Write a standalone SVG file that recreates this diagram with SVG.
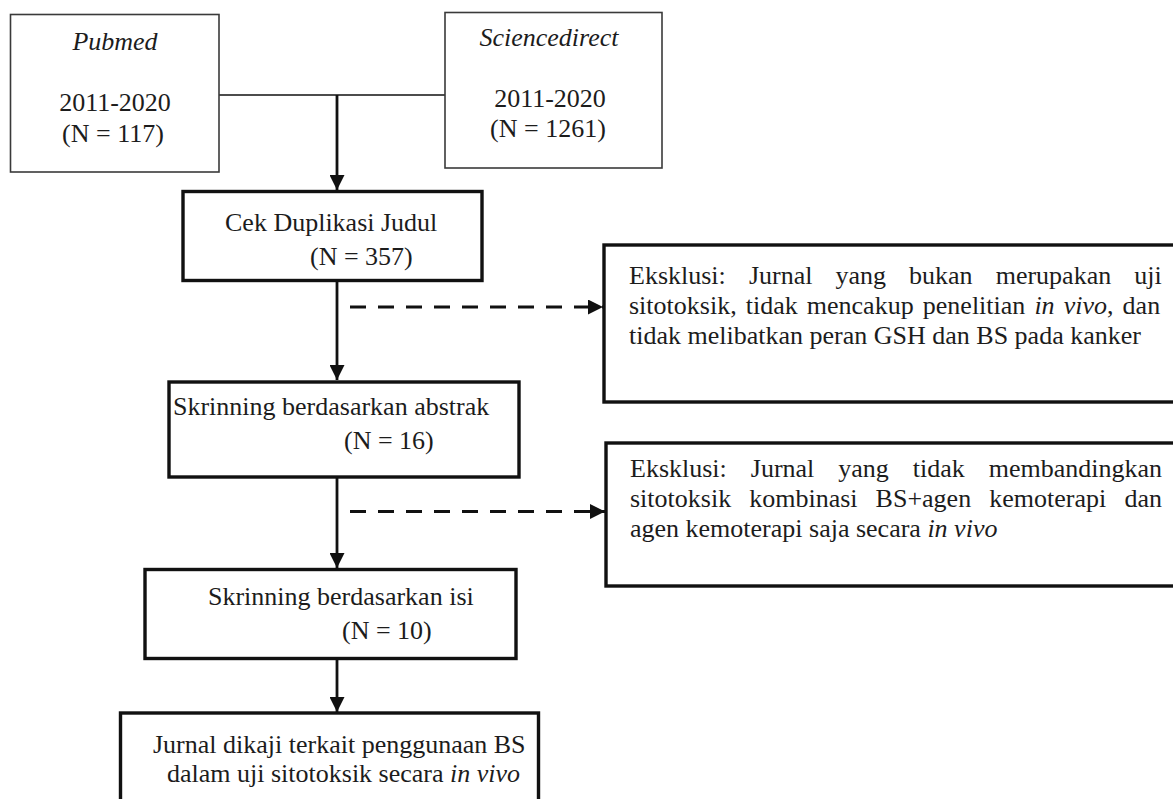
<svg xmlns="http://www.w3.org/2000/svg" width="1173" height="799" viewBox="0 0 1173 799">
<style>
text{font-family:"Liberation Serif","Times New Roman",serif;font-size:26px;fill:#1c1c1c}
.it{font-style:italic}
.thin{fill:#fff;stroke:#3a3a3a;stroke-width:1.6}
.thick{fill:#fff;stroke:#111;stroke-width:3.4}
.con{stroke:#111;fill:none}
.solid{stroke-width:2.8}
.dash{stroke-width:3;stroke-dasharray:16 12}
.mid{text-anchor:middle}
</style>
<defs>
<marker id="ah" viewBox="0 0 15 15" refX="15" refY="7.5" markerWidth="15" markerHeight="15" markerUnits="userSpaceOnUse" orient="auto">
<path d="M0,0 L15,7.5 L0,15 z" fill="#111"/>
</marker>
</defs>

<g id="connectors">
<line class="con" x1="219" y1="95" x2="445" y2="95" stroke-width="1.6"/>
<line class="con solid" x1="337" y1="95" x2="337" y2="190" marker-end="url(#ah)"/>
<line class="con solid" x1="337" y1="281" x2="337" y2="380" marker-end="url(#ah)"/>
<line class="con dash" x1="350" y1="307" x2="603" y2="307" marker-end="url(#ah)"/>
<line class="con solid" x1="337" y1="477" x2="337" y2="568" marker-end="url(#ah)"/>
<line class="con dash" x1="350" y1="511.5" x2="605" y2="511.5" marker-end="url(#ah)"/>
<line class="con solid" x1="337" y1="659" x2="337" y2="712" marker-end="url(#ah)"/>
</g>

<g id="pubmed">
<rect class="thin" x="10.5" y="14.5" width="208.5" height="157.5"/>
<text class="it mid" x="115" y="50">Pubmed</text>
<text class="mid" x="115" y="111">2011-2020</text>
<text class="mid" x="113" y="142">(N = 117)</text>
</g>

<g id="sciencedirect">
<rect class="thin" x="445" y="12.5" width="217" height="155.5"/>
<text class="it mid" x="549" y="46">Sciencedirect</text>
<text class="mid" x="550" y="107">2011-2020</text>
<text class="mid" x="548" y="137">(N = 1261)</text>
</g>

<g id="cek">
<rect class="thick" x="183" y="191.5" width="299" height="89"/>
<text x="225" y="231">Cek Duplikasi Judul</text>
<text x="310" y="265">(N = 357)</text>
</g>

<g id="abstrak">
<rect class="thick" x="169" y="382" width="350" height="95"/>
<text x="173" y="415">Skrinning berdasarkan abstrak</text>
<text x="344" y="449">(N = 16)</text>
</g>

<g id="isi">
<rect class="thick" x="145" y="569.5" width="371" height="89"/>
<text x="208" y="605">Skrinning berdasarkan isi</text>
<text x="342" y="639">(N = 10)</text>
</g>

<g id="jurnal">
<rect class="thick" x="120.5" y="713" width="418" height="100"/>
<text x="153" y="753">Jurnal dikaji terkait penggunaan BS</text>
<text x="167" y="782">dalam uji sitotoksik secara <tspan class="it">in vivo</tspan></text>
</g>

<g id="eksklusi1">
<rect class="thick" x="604" y="245" width="580" height="157"/>
<text y="284"><tspan x="629">Eksklusi:</tspan><tspan x="749">Jurnal</tspan><tspan x="835.5">yang</tspan><tspan x="909">bukan</tspan><tspan x="995.7">merupakan</tspan><tspan x="1134.3">uji</tspan></text>
<text y="314"><tspan x="629">sitotoksik,</tspan><tspan x="745.7">tidak</tspan><tspan x="806.8">mencakup</tspan><tspan x="922.8">penelitian</tspan><tspan x="1034.4" class="it">in</tspan><tspan x="1063.7" class="it">vivo</tspan><tspan>,</tspan><tspan x="1122.6">dan</tspan></text>
<text x="629" y="344">tidak melibatkan peran GSH dan BS pada kanker</text>
</g>

<g id="eksklusi2">
<rect class="thick" x="606" y="443" width="580" height="143"/>
<text y="477"><tspan x="630">Eksklusi:</tspan><tspan x="750.8">Jurnal</tspan><tspan x="838.3">yang</tspan><tspan x="912.8">tidak</tspan><tspan x="988.8">membandingkan</tspan></text>
<text y="507"><tspan x="630">sitotoksik</tspan><tspan x="749.2">kombinasi</tspan><tspan x="875.6">BS+agen</tspan><tspan x="989.3">kemoterapi</tspan><tspan x="1124.4">dan</tspan></text>
<text x="630" y="537">agen kemoterapi saja secara <tspan class="it">in vivo</tspan></text>
</g>
</svg>
